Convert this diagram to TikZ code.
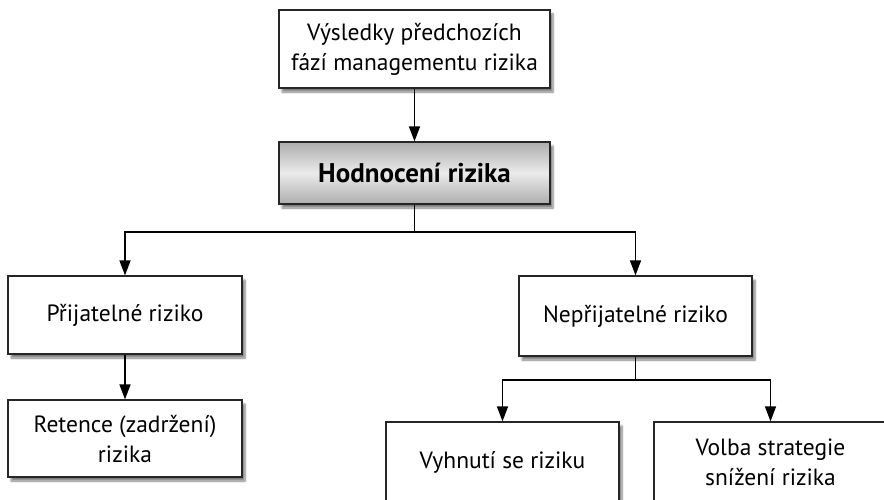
\documentclass[tikz,border=0pt]{standalone}
\usepackage{fontspec}
\setmainfont{PT Sans}
\usetikzlibrary{arrows.meta,shadows.blur,positioning}
\begin{document}
\begin{tikzpicture}[x=1pt,y=-1pt,
  box/.style={draw=black!85,line width=1.2pt,fill=white,align=center,
    font=\fontsize{23.5}{30}\selectfont,inner sep=0pt,
    blur shadow={shadow xshift=3pt,shadow yshift=-4pt,shadow blur steps=6,shadow opacity=50}},
  hl/.style={box,top color=black!32,bottom color=black!32,middle color=black!8,
    font=\fontsize{27}{30}\selectfont\bfseries},
  arr/.style={line width=1.3pt,-{Triangle[length=15pt,width=11pt]}},
  ln/.style={line width=1.3pt}]
\useasboundingbox (0,0) rectangle (884,500);
\clip (0,0) rectangle (884,500);
\node[box,minimum width=271pt,minimum height=78pt] (top) at (414.5,49) {Výsledky předchozích\\fází managementu rizika};
\node[hl,minimum width=271pt,minimum height=62pt] (hod) at (414.5,173) {Hodnocení rizika};
\node[box,minimum width=234pt,minimum height=78pt] (acc) at (125,315) {Přijatelné riziko};
\node[box,minimum width=234pt,minimum height=77pt] (ret) at (125,438.5) {Retence (zadržení)\\rizika};
\node[box,minimum width=233pt,minimum height=80pt] (unacc) at (635.5,316) {Nepřijatelné riziko};
\node[box,minimum width=233pt,minimum height=81pt] (avoid) at (502.5,462.5) {Vyhnutí se riziku};
\node[box,minimum width=233pt,minimum height=81pt] (volba) at (770.5,462.5) {Volba strategie\\snížení rizika};
\coordinate (j1) at (414.5,232);
\coordinate (j2) at (635.5,380);
\draw[arr] (top) -- (hod);
\draw[ln] (hod) -- (j1);
\draw[arr] (j1) -| (acc);
\draw[arr] (j1) -| (unacc);
\draw[arr] (acc) -- (ret);
\draw[ln] (unacc) -- (j2);
\draw[arr] (j2) -| (avoid);
\draw[arr] (j2) -| (volba);
\end{tikzpicture}
\end{document}
